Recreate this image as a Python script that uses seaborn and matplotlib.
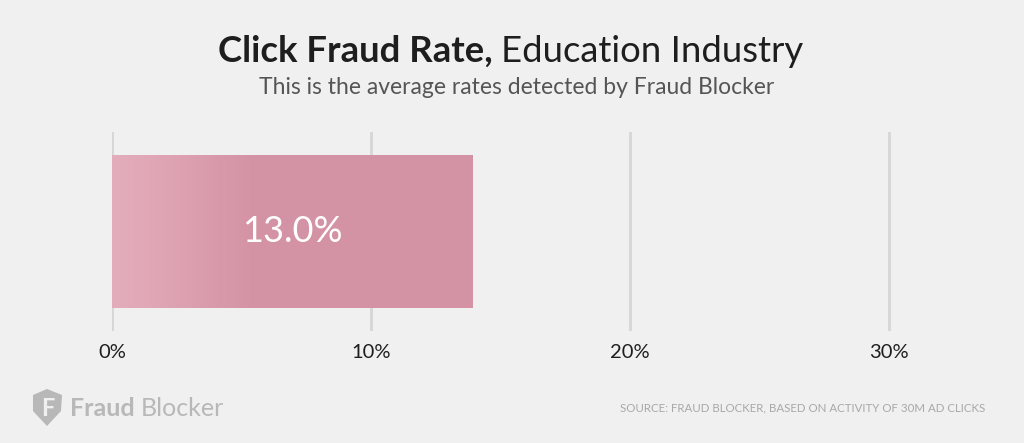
import matplotlib
matplotlib.use("Agg")
import matplotlib.pyplot as plt
import numpy as np
import pandas as pd
import seaborn as sns
from matplotlib.patches import Polygon
from matplotlib.colors import LinearSegmentedColormap

# data
industry = ["Education"]
rate = [13.9]              # bar length as drawn
rate_label = ["13.0%"]     # text printed on the bar
tick_values = [0, 10, 20, 30]
tick_labels = ["0%", "10%", "20%", "30%"]

bg = "#f0f0f0"
sns.set_theme(style="white", rc={"figure.facecolor": bg, "axes.facecolor": bg})
plt.rcParams["font.family"] = ["Lato", "DejaVu Sans"]

W, H = 1024, 443
fig = plt.figure(figsize=(W / 100, H / 100), dpi=100)

# axes placed so 0% sits at x=112 and 30% at x=889
x0, x30 = 112, 889
px_per_unit = (x30 - x0) / 30
xmax = 35
ax = fig.add_axes([x0 / W, 1 - 331 / H, xmax * px_per_unit / W, (331 - 132) / H])

df = pd.DataFrame({"industry": industry, "rate": rate})
sns.barplot(data=df, x="rate", y="industry", orient="h", ax=ax,
            color="#d492a3", width=0.77, edgecolor="none", linewidth=0, zorder=3)

for v in tick_values:
    ax.axvline(v, color="#d6d6d6", lw=2, zorder=1)
for s in ax.spines.values():
    s.set_visible(False)
ax.set_xticks(tick_values)
ax.set_xticklabels(tick_labels, fontsize=14.5, color="#1e1e1e")
ax.tick_params(axis="x", length=0, pad=9)
ax.set_yticks([])
ax.set_xlabel("")
ax.set_ylabel("")

# soft light-to-pink gradient on the bar
cmap = LinearSegmentedColormap.from_list("pk", [(0, "#e4adbc"), (0.12, "#e0a6b6"),
                                                (0.38, "#d494a5"), (1, "#d393a4")])
for bar, lab in zip(ax.patches, rate_label):
    bx, by = bar.get_x(), bar.get_y()
    bw, bh = bar.get_width(), bar.get_height()
    grad = np.linspace(0, 1, 256).reshape(1, -1)
    im = ax.imshow(grad, cmap=cmap, aspect="auto", extent=[bx, bx + bw, by + bh, by],
                   zorder=3.5, interpolation="bicubic")
    im.set_clip_path(bar)
    ax.text(bx + bw / 2, by + bh / 2, lab, ha="center", va="center",
            color="white", fontsize=26, zorder=5)
ax.set_xlim(0, xmax)
ax.set_ylim(0.5, -0.5)

# title: bold part + regular part, centred together
fig.canvas.draw()
r = fig.canvas.get_renderer()
ty = 1 - 62 / H
t1 = fig.text(0, ty, "Click Fraud Rate,", fontsize=26.3, fontweight="bold",
              color="#1e1e1e", ha="left", va="baseline")
t2 = fig.text(0, ty, "Education Industry", fontsize=26.3,
              color="#1e1e1e", ha="left", va="baseline")
w1 = t1.get_window_extent(r).width
w2 = t2.get_window_extent(r).width
gap = 9
start = 510.5 - (w1 + gap + w2) / 2
t1.set_x(start / W)
t2.set_x((start + w1 + gap) / W)
fig.text(517 / W, 1 - 87 / H, "This is the average rates detected by Fraud Blocker",
         fontsize=16.5, color="#555555", ha="center", va="center")

# footer
fig.text(985 / W, 1 - 408 / H, "SOURCE: FRAUD BLOCKER, BASED ON ACTIVITY OF 30M AD CLICKS",
         fontsize=8.3, color="#a8a8a8", ha="right", va="center")

logo_c = "#b8b8b8"
shield = [(33, 395), (47, 389), (62, 395), (61, 411), (47, 426), (33, 411)]
fig.patches.append(Polygon([(x / W, 1 - y / H) for x, y in shield], closed=True,
                           transform=fig.transFigure, facecolor=logo_c, edgecolor="none"))
fig.text(47.5 / W, 1 - 408 / H, "F", fontsize=17, fontweight="bold", color=bg,
         ha="center", va="center")
t3 = fig.text(70 / W, 1 - 408 / H, "Fraud", fontsize=18, fontweight="bold",
              color=logo_c, ha="left", va="center")
bb3 = t3.get_window_extent(r)
fig.text((bb3.x1 + 6) / W, 1 - 408 / H, "Blocker", fontsize=18, color=logo_c,
         ha="left", va="center")

fig.savefig("out.png", dpi=100, facecolor=bg)
